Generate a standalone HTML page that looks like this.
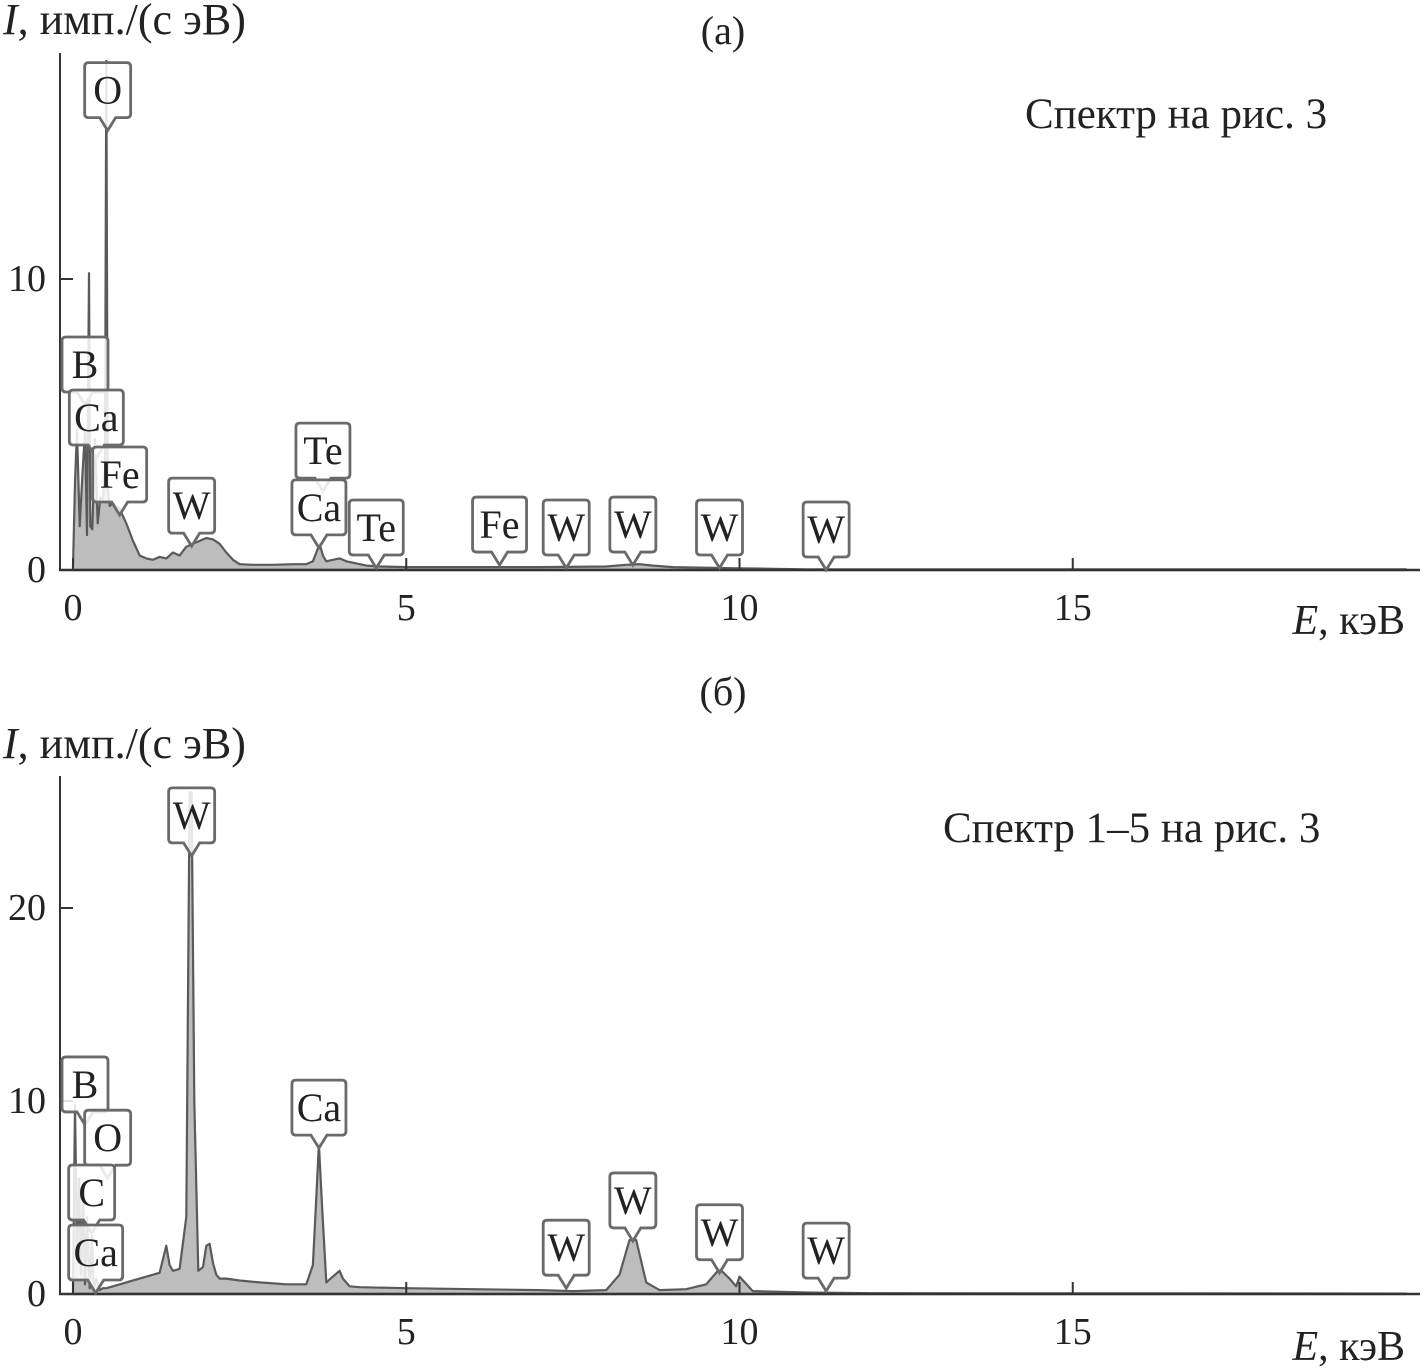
<!DOCTYPE html>
<html><head><meta charset="utf-8"><style>
html,body{margin:0;padding:0;background:#fff;}
svg{display:block;}
text{font-family:"Liberation Serif","Noto Serif CJK SC",serif;fill:#222;}
</style></head><body>
<svg id="chart" width="1424" height="1369" viewBox="0 0 1424 1369">
</svg>
<script>
// ---- Data (a) ----
const energyA = [0,0.03,0.06,0.1,0.14,0.18,0.21,0.24,0.26,0.29,0.33,0.37,0.41,0.45,0.48,0.5,0.52,0.55,0.6,0.7,0.8,0.9,1.0,1.1,1.2,1.3,1.4,1.5,1.6,1.7,1.8,1.9,2.0,2.1,2.2,2.3,2.4,2.5,2.7,3.0,3.3,3.5,3.6,3.65,3.7,3.75,3.8,3.9,4.0,4.1,4.2,4.4,4.6,5.0,6.0,7.0,8.0,8.3,8.5,8.7,9.0,9.5,10.0,10.5,11,12,20];
const intensA = [0.1,3.0,4.8,1.5,3.2,4.8,1.2,10.2,1.5,1.4,4.5,1.6,2.5,2.4,3.5,17.5,2.8,2.2,2.3,2.1,1.6,1.0,0.5,0.4,0.35,0.45,0.4,0.6,0.5,0.8,0.9,1.0,1.1,1.05,0.9,0.6,0.35,0.2,0.18,0.18,0.2,0.2,0.3,0.6,0.9,0.5,0.3,0.35,0.4,0.3,0.25,0.15,0.12,0.1,0.1,0.1,0.12,0.18,0.2,0.15,0.1,0.08,0.06,0.04,0.02,0.02,0.02];
const labelsA = ["O","B","Ca","Fe","W","Te","Ca","Te","Fe","W","W","W","W"];
const labelEA = [0.52,0.18,0.35,0.7,1.78,3.75,3.69,4.55,6.4,7.4,8.4,9.7,11.3];
const labelTopA = [15.1,5.67,3.85,1.89,0.82,2.71,0.76,0.07,0.17,0.07,0.17,0.07,0.0];
// ---- Data (b) ----
const energyB = [0,0.03,0.06,0.09,0.12,0.15,0.18,0.21,0.25,0.28,0.31,0.35,0.4,0.45,0.5,0.6,0.8,1.0,1.2,1.3,1.4,1.45,1.5,1.6,1.7,1.75,1.78,1.82,1.88,1.95,2.0,2.05,2.1,2.15,2.2,2.3,2.5,2.8,3.2,3.5,3.6,3.65,3.69,3.73,3.8,3.9,4.0,4.05,4.15,4.3,5,6,7,7.5,8.0,8.2,8.35,8.45,8.6,8.8,9.2,9.5,9.7,9.85,9.95,10.0,10.2,11,12,20];
const intensB = [0.2,9.8,2.0,6.0,1.0,5.5,0.5,4.0,0.3,3.0,0.3,0.8,0.2,0.3,0.3,0.4,0.6,0.8,1.0,1.1,2.5,1.5,1.2,1.3,4.0,26,26,10,1.2,1.4,2.5,2.6,1.6,1.0,0.8,0.8,0.7,0.6,0.5,0.5,1.5,5.0,7.8,5.0,0.6,0.9,1.2,0.8,0.4,0.35,0.3,0.25,0.2,0.15,0.2,1.0,2.8,2.8,0.6,0.2,0.25,0.5,1.3,0.8,0.4,0.9,0.15,0.08,0.04,0.02];
const labelsB = ["W","B","O","C","Ca","Ca","W","W","W","W"];
const labelEB = [1.78,0.18,0.52,0.28,0.34,3.69,7.4,8.4,9.7,11.3];
const labelTopB = [22.7,8.76,6.0,3.16,0.05,7.56,0.3,2.75,1.1,0.15];
const xTicks = [0,5,10,15];
const yTicksA = [0,10];
const yTicksB = [0,10,20];

const NS="http://www.w3.org/2000/svg";
const svg=document.getElementById('chart');
function mk(tag,attrs,parent,txt){const e=document.createElementNS(NS,tag);for(const k in attrs)e.setAttribute(k,attrs[k]);if(txt!==undefined)e.textContent=txt;(parent||svg).appendChild(e);return e;}
const xs=e=>73+e*66.65;

function panel(cfg){
  const g=mk('g',{});
  
  
  const ys=v=>cfg.y0-v*cfg.k;
  let d=`M${xs(cfg.E[0])},${cfg.y0}`;
  cfg.E.forEach((e,i)=>{d+=` L${xs(e).toFixed(1)},${Math.max(cfg.yTop,ys(cfg.I[i])).toFixed(1)}`;});
  d+=` L${xs(cfg.E[cfg.E.length-1])},${cfg.y0} Z`;
  const area=mk('path',{d:d,fill:'#bdbdbd',stroke:'#5a5a5a','stroke-width':2.2,'stroke-linejoin':'round'},g);
  
  
  const ya=mk('line',{x1:60,y1:cfg.yTop,x2:60,y2:cfg.y0+1,stroke:'#333','stroke-width':2},g);
  
  
  const xa=mk('line',{x1:59,y1:cfg.y0,x2:1420,y2:cfg.y0,stroke:'#333','stroke-width':2.5},g);
  
  
  xTicks.forEach(t=>{
    mk('line',{x1:xs(t),y1:cfg.y0-12,x2:xs(t),y2:cfg.y0,stroke:'#333','stroke-width':2},g);
    const tl=mk('text',{x:xs(t),y:cfg.y0+50,'font-size':38,'text-anchor':'middle'},g,String(t));
    
    
  });
  cfg.yt.forEach(t=>{
    mk('line',{x1:60,y1:ys(t),x2:73,y2:ys(t),stroke:'#333','stroke-width':2},g);
    const tl=mk('text',{x:46,y:ys(t)+12,'font-size':38,'text-anchor':'end'},g,String(t));
    
    
  });
  cfg.L.forEach((lab,i)=>{
    const px=xs(cfg.LE[i]); const py=ys(cfg.LT[i]);
    const w=lab.length>1?54:46, h=55;
    const bx=px-w/2, by=py-h-13;
    const lg=mk('g',{},g);
    
    
    const p=`M${bx+4},${by} H${bx+w-4} Q${bx+w},${by} ${bx+w},${by+4} V${by+h-4} Q${bx+w},${by+h} ${bx+w-4},${by+h} H${px+8} L${px},${by+h+13} L${px-8},${by+h} H${bx+4} Q${bx},${by+h} ${bx},${by+h-4} V${by+4} Q${bx},${by} ${bx+4},${by} Z`;
    mk('path',{d:p,fill:'#fff','fill-opacity':0.85,stroke:'#6a6a6a','stroke-width':2.8},lg);
    mk('text',{x:px,y:by+41,'font-size':40,'text-anchor':'middle'},lg,lab);
  });
}

panel({name:'panel-a',E:energyA,I:intensA,y0:570,k:29.1,yTop:53,yt:yTicksA,L:labelsA,LE:labelEA,LT:labelTopA});
panel({name:'panel-b',E:energyB,I:intensB,y0:1294,k:19.3,yTop:776,yt:yTicksB,L:labelsB,LE:labelEB,LT:labelTopB});

function txt(name,attrs,html){const t=mk('text',attrs);t.innerHTML=html;

}
txt('panel-a-title',{x:723,y:44,'font-size':40,'text-anchor':'middle'},'(а)');
txt('y-axis-title-a',{x:3,y:34,'font-size':44},'<tspan font-style="italic">I</tspan>, имп./(с эВ)');
txt('spectrum-note-a',{x:1025,y:128,'font-size':43},'Спектр на рис. 3');
txt('x-axis-title-a',{x:1405,y:634,'font-size':42,'text-anchor':'end'},'<tspan font-style="italic">E</tspan>, кэВ');
txt('panel-b-title',{x:723,y:705,'font-size':40,'text-anchor':'middle'},'(б)');
txt('y-axis-title-b',{x:3,y:758,'font-size':44},'<tspan font-style="italic">I</tspan>, имп./(с эВ)');
txt('spectrum-note-b',{x:943,y:842,'font-size':43},'Спектр 1–5 на рис. 3');
txt('x-axis-title-b',{x:1405,y:1360,'font-size':42,'text-anchor':'end'},'<tspan font-style="italic">E</tspan>, кэВ');
</script>
</body></html>
